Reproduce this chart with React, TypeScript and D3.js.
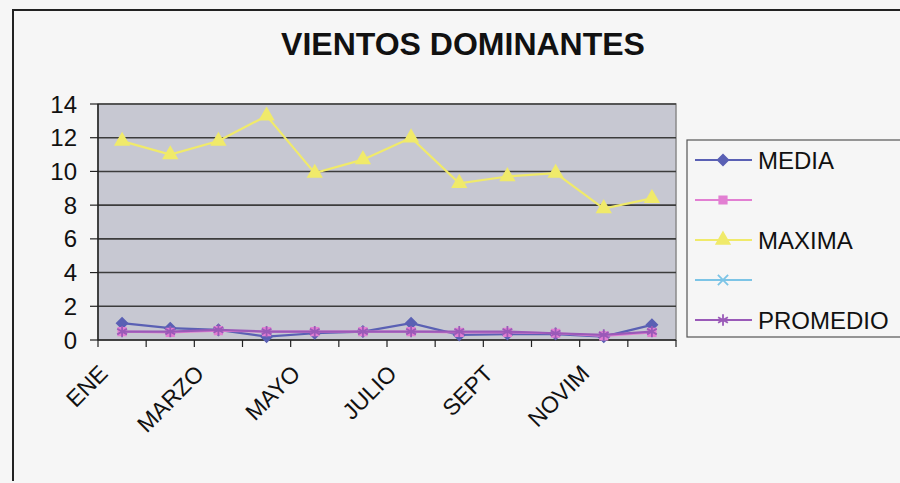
import React from "react";
import * as d3 from "d3";

const months = ["ENE", "FEB", "MARZO", "ABRIL", "MAYO", "JUNIO", "JULIO", "AGOSTO", "SEPT", "OCT", "NOVIM", "DIC"];
const media = [1.0, 0.7, 0.6, 0.2, 0.4, 0.5, 1.0, 0.3, 0.35, 0.35, 0.2, 0.9];
const serie2 = [0.5, 0.45, 0.55, 0.5, 0.5, 0.5, 0.5, 0.45, 0.45, 0.4, 0.25, 0.45];
const maxima = [11.8, 11.0, 11.8, 13.3, 9.9, 10.7, 12.0, 9.3, 9.7, 9.9, 7.8, 8.4];
const serie4: number[] = [];
const promedio = [0.5, 0.5, 0.6, 0.5, 0.5, 0.5, 0.5, 0.5, 0.5, 0.4, 0.3, 0.5];
const yTicks = [0, 2, 4, 6, 8, 10, 12, 14];

const series = [
  { name: "MEDIA", values: media, color: "#5a60b4", symbol: d3.symbolSquare, size: 55, rot: 45 },
  { name: "", values: serie2, color: "#e27fd2", symbol: d3.symbolSquare, size: 55, rot: 0 },
  { name: "MAXIMA", values: maxima, color: "#f0ea6a", symbol: d3.symbolTriangle, size: 75, rot: 0 },
  { name: "", values: serie4, color: "#7cc4e6", symbol: (d3 as any).symbolTimes ?? d3.symbolCross, size: 70, rot: 0 },
  { name: "PROMEDIO", values: promedio, color: "#9a5ab8", symbol: (d3 as any).symbolAsterisk ?? d3.symbolCross, size: 90, rot: 0 },
];

const font = "'Liberation Sans', Arial, sans-serif";

export default function App() {
  const W = 900, H = 483;
  const left = 98, right = 676, top = 104, bottom = 340;
  const x = d3.scaleBand<string>().domain(months).range([left, right]);
  const cx = (m: string) => (x(m) as number) + x.bandwidth() / 2;
  const y = d3.scaleLinear().domain([0, 14]).range([bottom, top]);
  const line = d3.line<number>().x((_, i) => cx(months[i])).y((d) => y(d));

  const legendX = 687, legendY = 140;

  return (
    <svg width={W} height={H} style={{ position: "absolute", left: 0, top: 0, background: "#f6f6f6" }} fontFamily={font}>
      {/* frame */}
      <path d={`M13,481 L13,10 L${W},10`} fill="none" stroke="#222" strokeWidth={2} />
      <text x={463} y={55} textAnchor="middle" fontSize={32} fontWeight="bold" fill="#111">
        VIENTOS DOMINANTES
      </text>

      {/* plot area */}
      <rect x={left} y={top} width={right - left} height={bottom - top} fill="#c7c8d2" stroke="#8a8a8a" strokeWidth={1.5} />
      {yTicks.filter((t) => t > 0).map((t) => (
        <line key={t} x1={left} x2={right} y1={y(t)} y2={y(t)} stroke="#3c3c3c" strokeWidth={1.6} />
      ))}
      {/* axes */}
      <line x1={left} x2={left} y1={top} y2={bottom} stroke="#222" strokeWidth={1.5} />
      <line x1={left} x2={right} y1={bottom} y2={bottom} stroke="#222" strokeWidth={1.5} />
      {yTicks.map((t) => (
        <g key={t}>
          <line x1={left - 8} x2={left} y1={y(t)} y2={y(t)} stroke="#222" strokeWidth={1.2} />
          <text x={77} y={y(t)} dy="0.36em" textAnchor="end" fontSize={24} fill="#111">
            {t}
          </text>
        </g>
      ))}
      {d3.range(months.length + 1).map((i) => {
        const xx = left + i * x.step();
        return <line key={i} x1={xx} x2={xx} y1={bottom} y2={bottom + 7} stroke="#222" strokeWidth={1.2} />;
      })}
      {months.map((m, i) =>
        i % 2 === 0 ? (
          <text
            key={m}
            transform={`translate(${cx(m) - 13},375) rotate(-45)`}
            textAnchor="end"
            fontSize={23}
            fill="#111"
          >
            {m}
          </text>
        ) : null
      )}

      {/* series */}
      {series.map((s, si) =>
        s.values.length ? (
          <g key={si}>
            <path d={line(s.values) ?? ""} fill="none" stroke={s.color} strokeWidth={2.2} />
            {s.values.map((v, i) => (
              <path
                key={i}
                transform={`translate(${cx(months[i])},${y(v)}) rotate(${s.rot})`}
                d={d3.symbol().type(s.symbol).size(s.size)() ?? ""}
                fill={s.color}
                stroke={s.color}
                strokeWidth={1.8}
              />
            ))}
          </g>
        ) : null
      )}

      {/* legend */}
      <rect x={legendX} y={legendY} width={W - legendX + 5} height={197} fill="#f6f6f6" stroke="#555" strokeWidth={1.2} />
      {series.map((s, i) => {
        const ly = 160 + i * 40;
        return (
          <g key={i}>
            <line x1={695} x2={752} y1={ly} y2={ly} stroke={s.color} strokeWidth={2} />
            <path
              transform={`translate(723,${ly}) rotate(${s.rot})`}
              d={d3.symbol().type(s.symbol).size(s.size)() ?? ""}
              fill={s.color}
              stroke={s.color}
              strokeWidth={1.8}
            />
            <text x={758} y={ly} dy="0.36em" fontSize={24} fill="#111">
              {s.name}
            </text>
          </g>
        );
      })}
    </svg>
  );
}
